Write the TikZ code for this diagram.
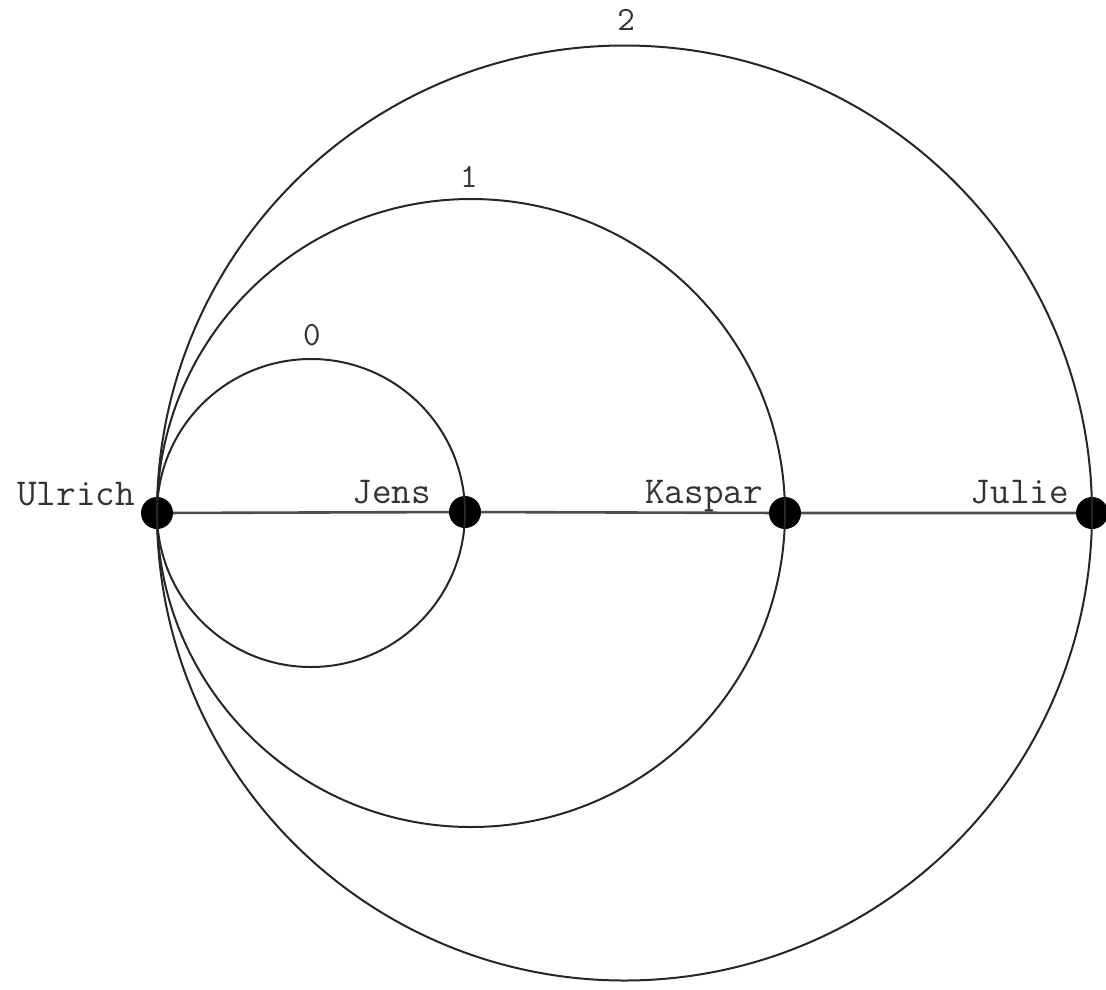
\documentclass[tikz,border=0pt]{standalone}
\usetikzlibrary{calc}
\begin{document}
\begin{tikzpicture}[x=1pt,y=-1pt,
  person/.style={circle,fill=black,minimum size=32pt,inner sep=0pt},
  link/.style={line width=2pt,black!85},
  chain/.style={line width=2.6pt,black!70},
  pname/.style={font=\ttfamily\fontsize{38}{38}\selectfont,text=black!80,inner sep=0pt,anchor=base east},
  level/.style={font=\ttfamily\fontsize{34}{34}\selectfont,text=black!80,inner sep=0pt,anchor=base}]
\useasboundingbox (0,0) rectangle (1106,989);
\node[person] (U) at (157,513) {};
\node[person] (J) at (465,512) {};
\node[person] (K) at (785,513) {};
\node[person] (Ju) at (1092,513) {};
\draw[link] (U.center) arc[start angle=180,delta angle=360,radius=154pt];
\draw[link] (U.center) arc[start angle=180,delta angle=360,radius=314pt];
\draw[link] (U.center) arc[start angle=180,delta angle=360,radius=467.5pt];
\draw[chain] (U) -- (J) -- (K) -- (Ju);
\node[pname] (nU) at (135,505) {Ulrich};
\node[pname] (nJ) at (431,503) {Jens};
\node[pname] (nK) at (763,503) {Kaspar};
\node[pname] (nJu) at (1069,503) {Julie};
\node[level] (l0) at (312,345) {0};
\node[level] (l1) at (469,187) {1};
\node[level] (l2) at (626,30) {2};
\end{tikzpicture}
\end{document}
